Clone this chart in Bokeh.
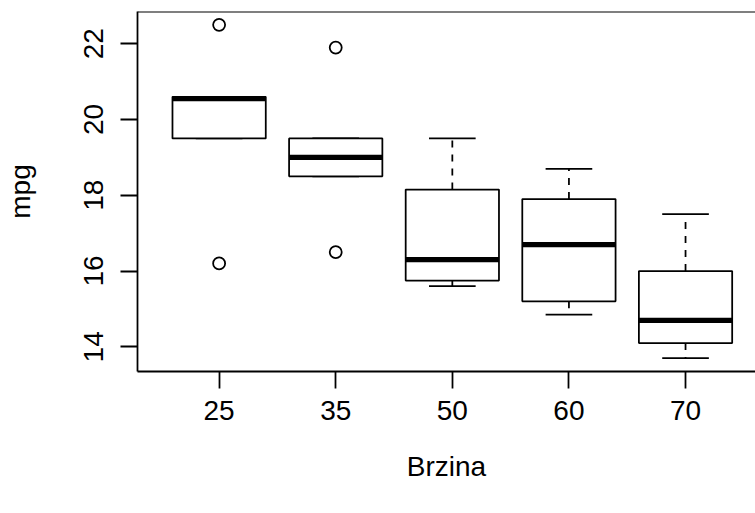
from bokeh.plotting import figure
from bokeh.models import FixedTicker, Span, Range1d
from bokeh.embed import file_html
from bokeh.resources import INLINE

# ---- data ----
categories = ["25", "35", "50", "60", "70"]
lower_whisker = [19.5, 18.5, 15.6, 14.85, 13.7]
q1 = [19.5, 18.5, 15.75, 15.2, 14.1]
median = [20.55, 19.0, 16.3, 16.7, 14.7]
q3 = [20.6, 19.5, 18.15, 17.9, 16.0]
upper_whisker = [20.6, 19.5, 19.5, 18.7, 17.5]
outlier_group = ["25", "25", "35", "35"]
outlier_value = [22.5, 16.2, 21.9, 16.5]
y_ticks = [14, 16, 18, 20, 22]
x_title = "Brzina"
y_title = "mpg"

FONT = "Liberation Sans"
FS = "28px"
LW = 1.77

n = len(categories)
xs = [i + 1 for i in range(n)]
pos = {c: i + 1 for i, c in enumerate(categories)}

all_vals = lower_whisker + upper_whisker + outlier_value
lo, hi = min(all_vals), max(all_vals)
pad = 0.04 * (hi - lo)

p = figure(width=755, height=513,
           x_range=Range1d(0.5 - 0.04 * n, 5.6),
           y_range=Range1d(lo - pad, hi + pad),
           output_backend="svg", toolbar_location=None,
           min_border_left=137, min_border_right=0,
           min_border_top=11, min_border_bottom=142)
p.grid.visible = False
p.outline_line_color = None
p.background_fill_color = "white"
p.border_fill_color = "white"

# top border of the box
p.add_layout(Span(location=hi + pad, dimension="width",
                  line_color="black", line_width=LW))

half = 0.4
cap = 0.2
# whiskers (dashed)
p.segment(x0=xs, x1=xs, y0=q3, y1=upper_whisker,
          line_color="black", line_width=LW, line_dash="7 7")
p.segment(x0=xs, x1=xs, y0=q1, y1=lower_whisker,
          line_color="black", line_width=LW, line_dash="7 7")
# staples
p.segment(x0=[x - cap for x in xs], x1=[x + cap for x in xs],
          y0=upper_whisker, y1=upper_whisker,
          line_color="black", line_width=LW)
p.segment(x0=[x - cap for x in xs], x1=[x + cap for x in xs],
          y0=lower_whisker, y1=lower_whisker,
          line_color="black", line_width=LW)
# boxes
p.quad(left=[x - half for x in xs], right=[x + half for x in xs],
       bottom=q1, top=q3, fill_color="white",
       line_color="black", line_width=LW)
# medians
p.segment(x0=[x - half for x in xs], x1=[x + half for x in xs],
          y0=median, y1=median, line_color="black",
          line_width=5.3, line_cap="butt")
# outliers
p.scatter(x=[pos[g] for g in outlier_group], y=outlier_value,
          marker="circle", size=12, fill_color=None,
          line_color="black", line_width=LW)

# axes
for ax in (p.xaxis[0], p.yaxis[0]):
    ax.axis_line_color = "black"
    ax.axis_line_width = LW
    ax.major_tick_line_color = "black"
    ax.major_tick_line_width = LW
    ax.major_tick_in = 0
    ax.major_tick_out = 17
    ax.minor_tick_line_color = None
    ax.major_label_text_font = FONT
    ax.major_label_text_font_size = FS
    ax.major_label_text_color = "black"
    ax.axis_label_text_font = FONT
    ax.axis_label_text_font_size = FS
    ax.axis_label_text_font_style = "normal"
    ax.axis_label_text_color = "black"

p.xaxis.ticker = FixedTicker(ticks=xs)
p.xaxis.major_label_overrides = {x: c for x, c in zip(xs, categories)}
p.xaxis.axis_label = x_title
p.xaxis.major_label_standoff = 12
p.xaxis.axis_label_standoff = 28

p.yaxis.ticker = FixedTicker(ticks=y_ticks)
p.yaxis.major_label_orientation = "vertical"
p.yaxis.axis_label = y_title
p.yaxis.major_label_standoff = 17
p.yaxis.axis_label_standoff = 46

open("out.html", "w").write(file_html(p, INLINE))
